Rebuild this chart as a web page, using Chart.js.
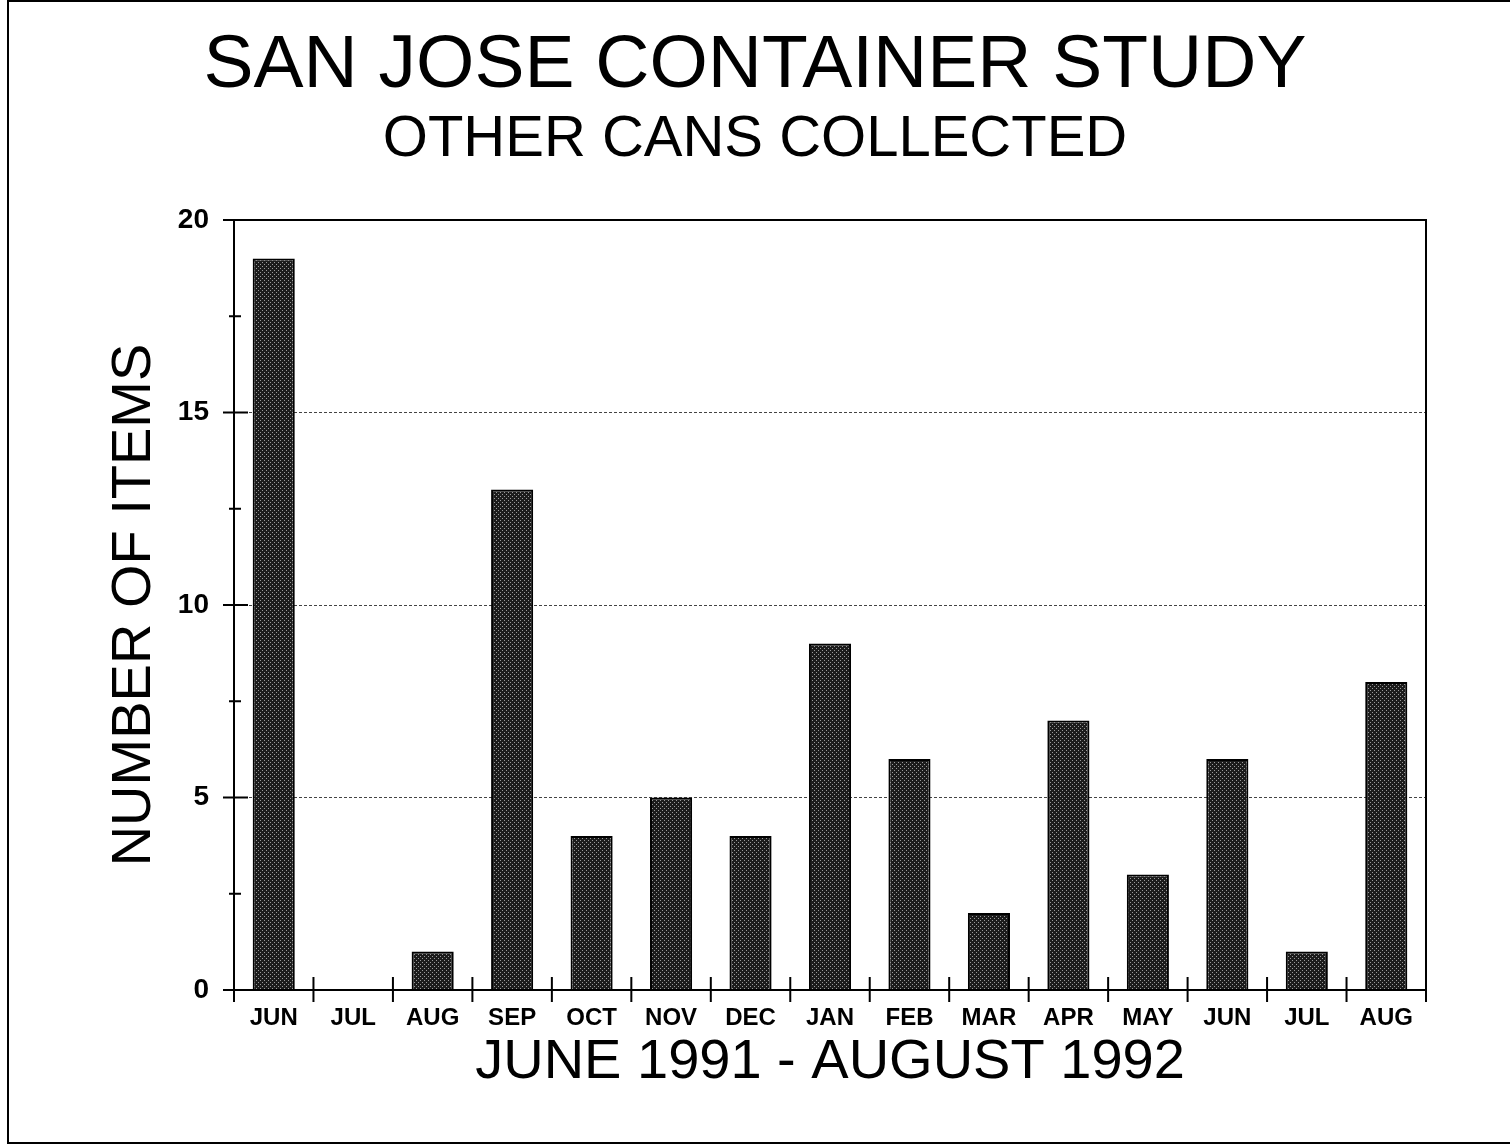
<!DOCTYPE html>
<html>
<head>
<meta charset="utf-8">
<title>San Jose Container Study</title>
<script src="https://cdn.jsdelivr.net/npm/chart.js@4/dist/chart.umd.min.js"></script>
<style>
  html, body { margin: 0; padding: 0; background: #fff; overflow: hidden; }
  #wrap { position: relative; width: 1510px; height: 1144px; }
  #frame { position: absolute; left: 7px; top: 0; width: 1520px; height: 1140px; border: 2px solid #000; }
  canvas { position: absolute; left: 0; top: 0; }
</style>
</head>
<body>
<div id="wrap">
  <div id="frame"></div>
  <canvas id="chart" width="1510" height="1144"></canvas>
</div>
<script>
const months = ["JUN", "JUL", "AUG", "SEP", "OCT", "NOV", "DEC", "JAN", "FEB", "MAR", "APR", "MAY", "JUN", "JUL", "AUG"];
const otherCans = [19, 0, 1, 13, 4, 5, 4, 9, 6, 2, 7, 3, 6, 1, 8];
const yTicks = [0, 5, 10, 15, 20];

const FONT = "'Liberation Sans', Arial, Helvetica, sans-serif";

// stippled dark fill for the bars
function stipple() {
  const c = document.createElement('canvas');
  c.width = 4; c.height = 4;
  const g = c.getContext('2d');
  g.fillStyle = '#1c1c1c';
  g.fillRect(0, 0, 4, 4);
  g.fillStyle = '#9a9a9a';
  g.fillRect(0, 0, 1, 1);
  g.fillRect(2, 2, 1, 1);
  return g.createPattern(c, 'repeat');
}

// plot frame plus tick marks that cross the axes
const axisMarks = {
  id: 'axisMarks',
  afterDraw(chart) {
    const { ctx, chartArea: a, scales: { x, y } } = chart;
    ctx.save();
    ctx.strokeStyle = '#000';
    ctx.lineWidth = 2;
    ctx.strokeRect(a.left, a.top, a.right - a.left, a.bottom - a.top);

    ctx.beginPath();
    for (let v = 0; v <= 20; v += 2.5) {
      const py = y.getPixelForValue(v);
      const major = v % 5 === 0;
      ctx.moveTo(a.left - (major ? 11 : 5), py);
      ctx.lineTo(a.left + (major ? 14 : 7), py);
    }
    const step = (a.right - a.left) / months.length;
    for (let i = 0; i <= months.length; i++) {
      const px = i === 0 ? a.left : (x.getPixelForValue(i - 1) + (i < months.length ? x.getPixelForValue(i) : x.getPixelForValue(i - 1) + step)) / 2;
      const inner = i > 0 && i < months.length;
      ctx.moveTo(px, a.bottom - (inner ? 13 : 0));
      ctx.lineTo(px, a.bottom + 12);
    }
    ctx.stroke();
    ctx.restore();
  }
};

new Chart(document.getElementById('chart'), {
  type: 'bar',
  data: {
    labels: months,
    datasets: [{
      data: otherCans,
      backgroundColor: stipple(),
      borderColor: '#000',
      borderWidth: 2,
      borderSkipped: 'bottom',
      categoryPercentage: 1,
      barPercentage: 0.53
    }]
  },
  options: {
    responsive: false,
    animation: false,
    layout: { padding: { left: 84, right: 84, top: 0, bottom: 53 } },
    plugins: {
      legend: { display: false },
      tooltip: { enabled: false },
      title: {
        display: true,
        text: 'SAN JOSE CONTAINER STUDY',
        color: '#000',
        font: { family: FONT, size: 75, weight: 'normal', lineHeight: 1 },
        padding: { top: 29, bottom: 7 }
      },
      subtitle: {
        display: true,
        text: 'OTHER CANS COLLECTED',
        color: '#000',
        font: { family: FONT, size: 58, weight: 'normal', lineHeight: 1 },
        padding: { top: 0, bottom: 51 }
      }
    },
    scales: {
      x: {
        grid: { display: false, drawTicks: false },
        border: { display: false },
        ticks: {
          color: '#000',
          padding: 14,
          maxRotation: 0,
          autoSkip: false,
          font: { family: FONT, size: 24, weight: 'bold' }
        },
        title: {
          display: true,
          text: 'JUNE 1991 - AUGUST 1992',
          color: '#000',
          font: { family: FONT, size: 56, weight: 'normal', lineHeight: 1 },
          padding: { top: 0, bottom: 0 }
        },
        afterFit(scale) { scale.height = 101; }
      },
      y: {
        min: 0,
        max: 20,
        grid: {
          drawTicks: false,
          lineWidth: 1,
          color: c => (c.tick && c.tick.value > 0 && c.tick.value < 20 && c.tick.value % 5 === 0) ? '#444' : 'rgba(0,0,0,0)'
        },
        border: { display: false, dash: [3, 2] },
        ticks: {
          stepSize: 2.5,
          color: '#000',
          padding: 25,
          font: { family: FONT, size: 28, weight: 'bold' },
          callback: v => yTicks.includes(v) ? v : ''
        },
        title: {
          display: true,
          text: 'NUMBER OF ITEMS',
          color: '#000',
          font: { family: FONT, size: 56, weight: 'normal', lineHeight: 1 },
          padding: { top: 23, bottom: 0 }
        },
        afterFit(scale) { scale.width = 150; }
      }
    }
  },
  plugins: [axisMarks]
});
</script>
</body>
</html>
